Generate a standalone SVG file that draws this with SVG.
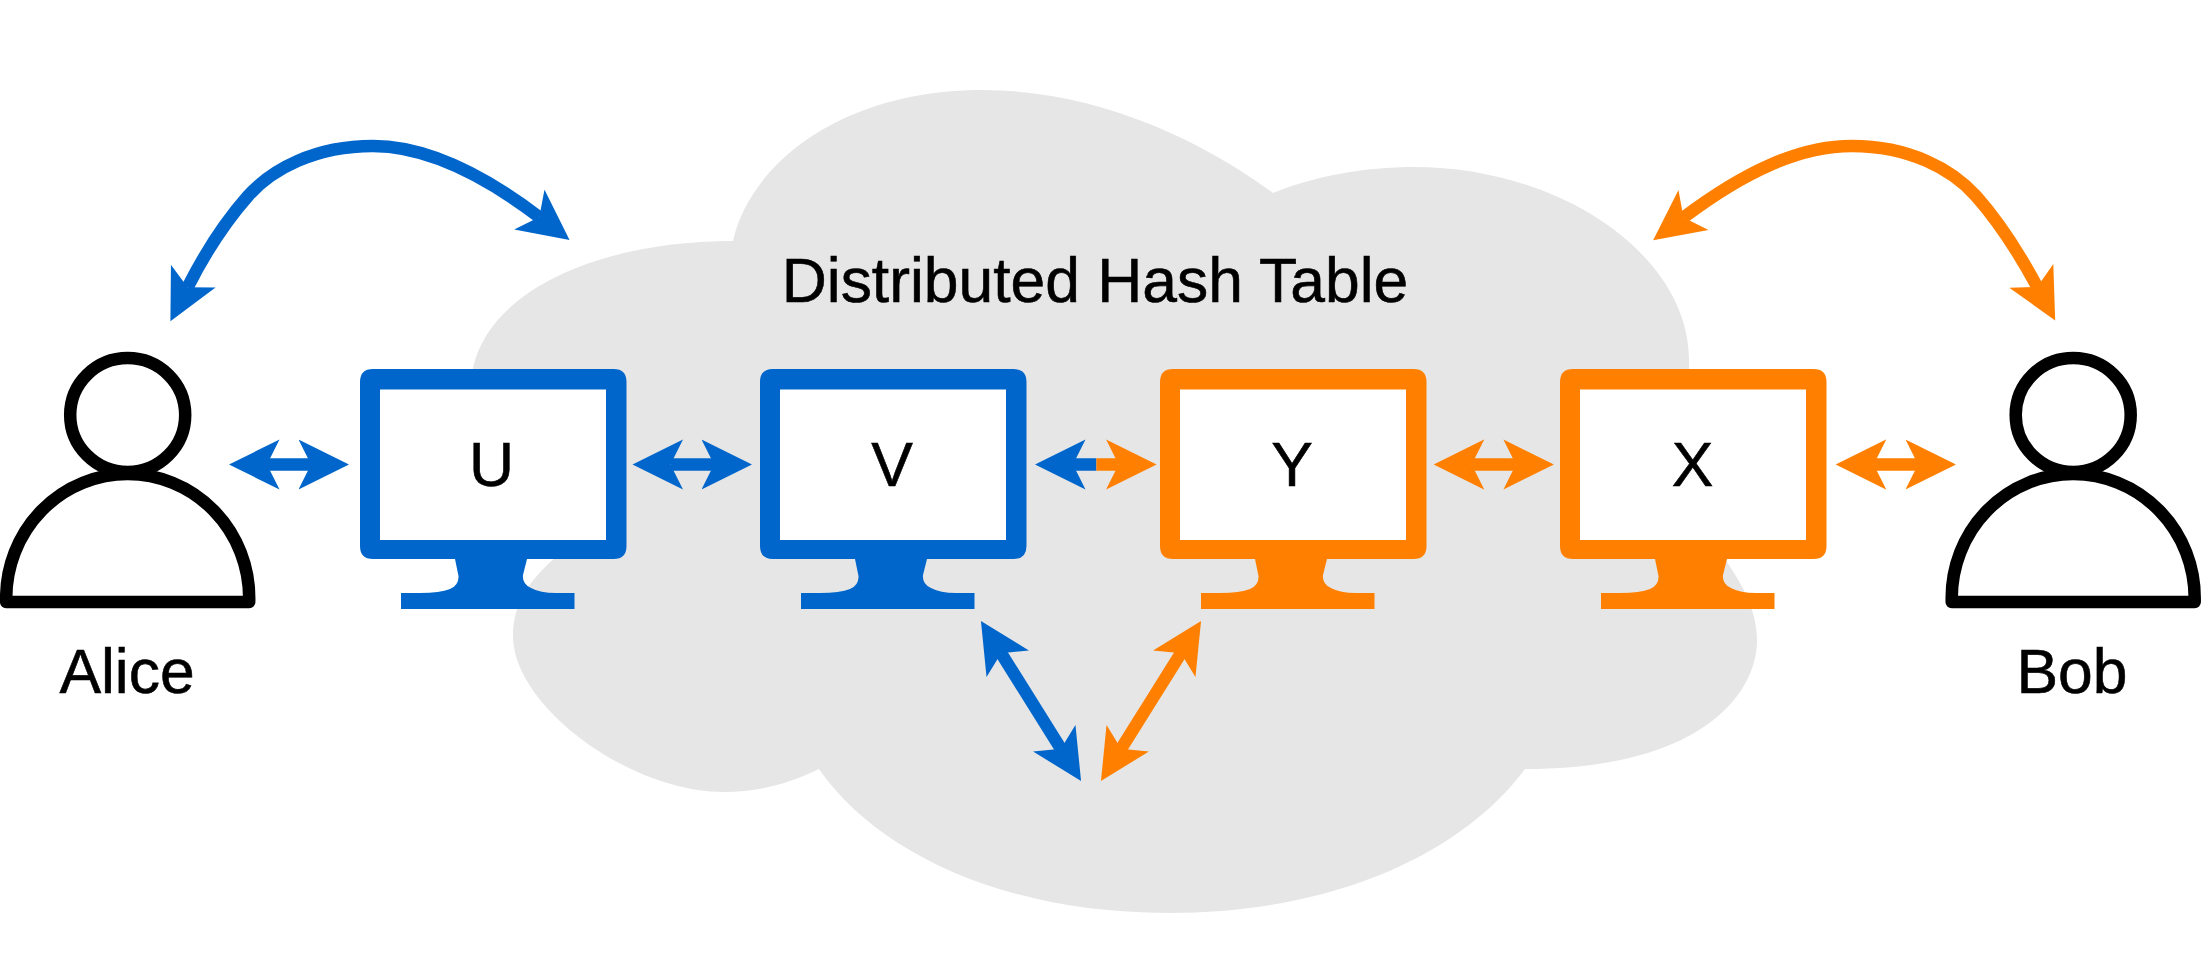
<svg xmlns="http://www.w3.org/2000/svg" width="2202" height="962" viewBox="0 0 2202 962">
<style>
text{font-family:"Liberation Sans",Arial,sans-serif;font-size:62.4px;fill:#000;stroke:#000;stroke-width:.6;text-anchor:middle}
.blue{color:#0066CC}
.orange{color:#FF8000}
.b,.o{fill:none;stroke-width:12.5}
.b{stroke:#0066CC;marker-start:url(#hb);marker-end:url(#hb)}
.o{stroke:#FF8000;marker-start:url(#ho);marker-end:url(#ho)}
.p{fill:#fff;stroke:#000;stroke-width:12.5;stroke-linejoin:round}
</style>
<defs>
<marker id="hb" viewBox="0 -25.5 51 51" refX="12.5" refY="0" markerWidth="51" markerHeight="51" markerUnits="userSpaceOnUse" orient="auto-start-reverse"><path d="M50.5 0L0 -25L12.5 0L0 25Z" fill="#0066CC"/></marker>
<marker id="ho" viewBox="0 -25.5 51 51" refX="12.5" refY="0" markerWidth="51" markerHeight="51" markerUnits="userSpaceOnUse" orient="auto-start-reverse"><path d="M50.5 0L0 -25L12.5 0L0 25Z" fill="#FF8000"/></marker>
<g id="monitor">
<path fill="currentColor" d="M373 369H613.5Q626.5 369 626.5 382V546Q626.5 559 613.5 559H527L523 575Q522 584 531 588Q540 593 556 593H574.5V609H401V593H420Q440 593 450 589Q459 585 458.5 576L455 559H373Q360 559 360 546V382Q360 369 373 369Z"/>
<rect x="380" y="389.5" width="226" height="150.5" fill="#fff"/>
</g>
<g id="person">
<path class="p" d="M6.2 602V598A121.5 124 0 0 1 249.2 598V602Z"/>
<ellipse class="p" cx="127.7" cy="415" rx="57.5" ry="57"/>
</g>
</defs>
<g id="cloud">
<path fill="#E6E6E6" d="M733 241C750 165 840 90 983 90C1090 90 1195 135 1273 193C1315 176 1365 167 1414 167C1560 167 1689 255 1689 360V420L1700 525C1730 565 1757 600 1757 640C1757 695 1700 769 1525 769C1465 850 1340 913 1168 913C1000 913 875 850 819 769C790 783 760 792 724 792C628 792 513 705 513 636C513 605 528 582 553.6 559L600 510L470 400L473 368C490 290 600 241 733 241Z"/>
<text x="1095" y="301.7">Distributed Hash Table</text>
</g>
<g id="connectors">
<path class="b" d="M187.6 287.3C205 253 225 222 248 196C272 169 315 146 373 146C425 146 480 172 539.3 217.1"/>
<path class="o" d="M1683.5 217.5C1744 172 1799 146 1852 146C1909 146 1952 169 1976 196C1999 222 2019 253 2037.2 286.9"/>
<line class="b" x1="267" y1="464.5" x2="311" y2="464.5"/>
<line class="b" x1="670.5" y1="464.5" x2="714" y2="464.5"/>
<line class="b" x1="1073" y1="464.5" x2="1096.4" y2="464.5" style="marker-end:none"/>
<line class="o" x1="1096.4" y1="464.5" x2="1118.6" y2="464.5" style="marker-start:none"/>
<line class="o" x1="1471.7" y1="464.5" x2="1515.9" y2="464.5"/>
<line class="o" x1="1873.7" y1="464.5" x2="1918" y2="464.5"/>
<line class="b" x1="1001.1" y1="653.2" x2="1060.9" y2="748.8"/>
<line class="o" x1="1180.9" y1="653.2" x2="1121.1" y2="748.8"/>
</g>
<g id="alice"><use href="#person"/><text x="127" y="693">Alice</text></g>
<g id="bob"><use href="#person" x="1945.5"/><text x="2072" y="693">Bob</text></g>
<g id="u" class="blue"><use href="#monitor"/><text x="491.5" y="486">U</text></g>
<g id="v" class="blue"><use href="#monitor" x="400"/><text x="892" y="486">V</text></g>
<g id="y" class="orange"><use href="#monitor" x="800"/><text x="1292" y="486">Y</text></g>
<g id="x" class="orange"><use href="#monitor" x="1200"/><text x="1692.5" y="486">X</text></g>
</svg>
